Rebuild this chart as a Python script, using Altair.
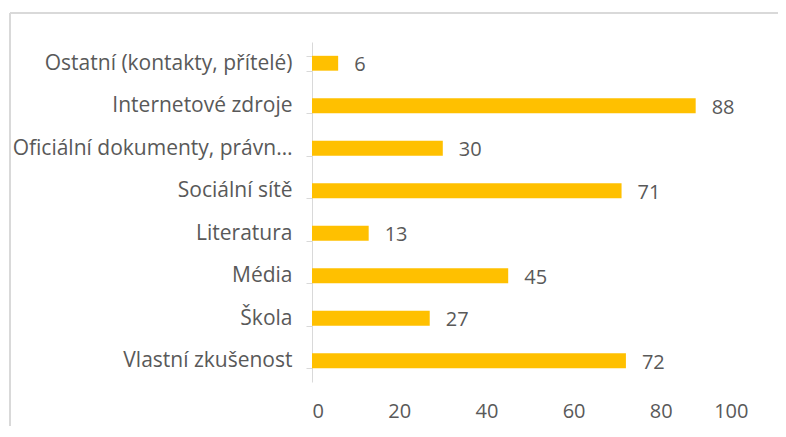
import altair as alt
import pandas as pd

categories = [
    "Ostatní (kontakty, přítelé)",
    "Internetové zdroje",
    "Oficiální dokumenty, právn…",
    "Sociální sítě",
    "Literatura",
    "Média",
    "Škola",
    "Vlastní zkušenost",
]
values = [6, 88, 30, 71, 13, 45, 27, 72]
x_ticks = [0, 20, 40, 60, 80, 100]

df = pd.DataFrame({"cat": categories, "val": values})

FONT = "Open Sans"
TXT = "#595959"
GRID = "#D9D9D9"

y_enc = alt.Y(
    "cat:N",
    sort=categories,
    title=None,
    scale=alt.Scale(paddingInner=0.65, paddingOuter=0.325),
    axis=alt.Axis(
        domainColor=GRID,
        tickColor=GRID,
        tickSize=6,
        tickBand="extent",
        labelFont=FONT,
        labelFontSize=21,
        labelColor=TXT,
        labelPadding=14,
        labelLimit=300,
    ),
)
x_enc = alt.X(
    "val:Q",
    title=None,
    scale=alt.Scale(domain=[0, 100], nice=False),
    axis=alt.Axis(
        values=x_ticks,
        grid=False,
        domain=False,
        ticks=False,
        labelFont=FONT,
        labelFontSize=20,
        labelColor=TXT,
        labelPadding=19,
    ),
)

bars = alt.Chart(df).mark_bar(color="#FFC000").encode(x=x_enc, y=y_enc)
labels = alt.Chart(df).mark_text(
    align="left", baseline="middle", dx=16, dy=2, font=FONT, fontSize=20, color=TXT
).encode(x="val:Q", y=alt.Y("cat:N", sort=categories), text="val:Q")

frame_src = alt.Chart(pd.DataFrame({"a": [0]}))
frame_top = frame_src.mark_rule(color=GRID, strokeWidth=2).encode(
    x=alt.value(-302), x2=alt.value(900), y=alt.value(-29)
)
frame_left = frame_src.mark_rule(color=GRID, strokeWidth=2).encode(
    x=alt.value(-302), y=alt.value(-29), y2=alt.value(420)
)

chart = alt.layer(frame_top, frame_left, bars, labels).properties(
    width=436,
    height=340,
    autosize=alt.AutoSizeParams(type="none"),
    padding={"left": 304, "top": 34, "right": 30, "bottom": 44},
).configure_view(stroke=None)

chart.save("out.html", embed_options={"renderer": "svg", "actions": False})
